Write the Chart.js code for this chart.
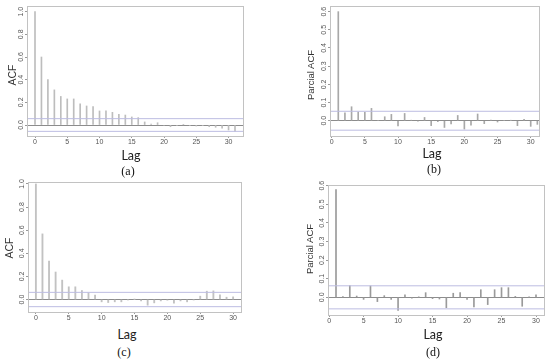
<!DOCTYPE html>
<html>
<head>
<meta charset="utf-8">
<script src="https://cdn.jsdelivr.net/npm/chart.js@4.4.1/dist/chart.umd.min.js"></script>
<style>
body { margin: 0; background: #fff; width: 550px; height: 359px; position: relative; overflow: hidden; }
canvas { position: absolute; }
.t { position: absolute; white-space: nowrap; transform: translate(-50%, -50%); }
.yt { font: 9.5px "Liberation Sans", Arial, sans-serif; color: #333; transform: translate(-50%, -50%) rotate(-90deg); }
.yt.big { font-size: 10.5px; }
.lag { font: 12.5px Lato, sans-serif; color: #222; }
.cap { font: 12px "Liberation Serif", serif; color: #111; }
</style>
</head>
<body>
<canvas id="ca" width="250" height="150" style="left:0;top:0"></canvas>
<canvas id="cb" width="250" height="150" style="left:300px;top:0"></canvas>
<canvas id="cc" width="250" height="150" style="left:0;top:176px"></canvas>
<canvas id="cd" width="250" height="152" style="left:300px;top:176px"></canvas>

<div class="t yt big" style="left:11.5px;top:75px">ACF</div>
<div class="t yt" style="left:309.5px;top:75px">Parcial ACF</div>
<div class="t yt big" style="left:9px;top:248px">ACF</div>
<div class="t yt" style="left:309px;top:249px">Parcial ACF</div>

<div class="t lag" style="left:131px;top:155px">Lag</div>
<div class="t lag" style="left:432px;top:153px">Lag</div>
<div class="t lag" style="left:127px;top:334px">Lag</div>
<div class="t lag" style="left:433px;top:334px">Lag</div>

<div class="t cap" style="left:128px;top:171px">(a)</div>
<div class="t cap" style="left:434px;top:169px">(b)</div>
<div class="t cap" style="left:124px;top:352px">(c)</div>
<div class="t cap" style="left:433px;top:352px">(d)</div>

<script>
// valeurs
var lagsA = [0,1,2,3,4,5,6,7,8,9,10,11,12,13,14,15,16,17,18,19,20,21,22,23,24,25,26,27,28,29,30,31];
var acfA = [1.0,0.60,0.40,0.31,0.252,0.23,0.23,0.186,0.168,0.162,0.124,0.124,0.112,0.094,0.088,0.071,
            0.065,0.027,0.009,0.02,-0.004,-0.015,-0.003,0.002,-0.003,-0.009,-0.006,-0.015,-0.02,-0.027,-0.044,-0.056];

var lagsB = [1,2,3,4,5,6,7,8,9,10,11,12,13,14,15,16,17,18,19,20,21,22,23,24,25,26,27,28,29,30,31];
var pacfB = [0.60,0.044,0.077,0.048,0.046,0.068,0.002,0.022,0.035,-0.029,0.040,0.003,-0.002,0.018,-0.027,
             -0.005,-0.037,-0.018,0.029,-0.046,-0.024,0.037,-0.016,0.003,-0.007,0.002,0.001,-0.027,0.007,-0.031,-0.02];

var lagsC = [0,1,2,3,4,5,6,7,8,9,10,11,12,13,14,15,16,17,18,19,20,21,22,23,24,25,26,27,28,29,30];
var acfC = [1.0,0.568,0.333,0.238,0.168,0.110,0.110,0.078,0.058,0.038,-0.02,-0.026,-0.02,-0.02,-0.003,0.001,
            -0.012,-0.049,-0.029,-0.012,-0.006,-0.032,-0.012,-0.02,-0.003,0.029,0.072,0.075,0.041,0.02,0.023];

var lagsD = [1,2,3,4,5,6,7,8,9,10,11,12,13,14,15,16,17,18,19,20,21,22,23,24,25,26,27,28,29,30];
var pacfD = [0.58,0.004,0.063,0.007,-0.011,0.061,-0.023,0.009,-0.011,-0.07,0.014,-0.005,0.001,0.025,-0.007,
             -0.009,-0.056,0.022,0.025,-0.011,-0.052,0.041,-0.039,0.041,0.052,0.052,0.005,-0.048,0.001,0.014];

// bornes de confiance (lignes bleues)
var ciA = 0.056, ciB = 0.052, ciC = 0.062, ciD = 0.062;

// graduations
var lagTicks = [0,5,10,15,20,25,30];
var acfTicks = [0,0.2,0.4,0.6,0.8,1.0];
var pacfTicks = [0,0.1,0.2,0.3,0.4,0.5,0.6];

var tickFont = { family: '"Liberation Sans", Arial, sans-serif', size: 7 };

// cadre autour de la zone du graphe (comme R)
var boxPlugin = {
  id: 'box',
  afterDraw: function (chart) {
    var ctx = chart.ctx, a = chart.chartArea;
    ctx.save();
    ctx.strokeStyle = '#c2c2c2';
    ctx.lineWidth = 1;
    ctx.strokeRect(Math.round(a.left) + 0.5, Math.round(a.top) + 0.5,
                   Math.round(a.right - a.left), Math.round(a.bottom - a.top));
    ctx.restore();
  }
};

function makePanel(id, lags, vals, ci, yTicks, p) {
  var ciColor = '#bcbce2';
  return new Chart(document.getElementById(id), {
    type: 'bar',
    data: {
      datasets: [
        {
          type: 'bar',
          data: lags.map(function (l, i) { return { x: l, y: vals[i] }; }),
          backgroundColor: p.barColor,
          borderWidth: 0,
          barThickness: p.barW,
          order: 2
        },
        {
          type: 'line',
          data: [{ x: p.xmin, y: ci }, { x: p.xmax, y: ci }],
          borderColor: ciColor, borderWidth: 1, pointRadius: 0, order: 1
        },
        {
          type: 'line',
          data: [{ x: p.xmin, y: -ci }, { x: p.xmax, y: -ci }],
          borderColor: ciColor, borderWidth: 1, pointRadius: 0, order: 1
        }
      ]
    },
    options: {
      responsive: false,
      animation: false,
      devicePixelRatio: 1,
      layout: { padding: { top: p.padTop, right: p.padRight, left: 0, bottom: 0 } },
      plugins: { legend: { display: false }, tooltip: { enabled: false } },
      scales: {
        x: {
          type: 'linear',
          min: p.xmin, max: p.xmax,
          offset: false,
          afterBuildTicks: function (s) { s.ticks = lagTicks.map(function (v) { return { value: v }; }); },
          afterFit: function (s) { s.height = p.xh; },
          ticks: { font: tickFont, color: '#555', padding: 0, maxRotation: 0, autoSkip: false },
          grid: { offset: false, drawOnChartArea: false, tickLength: 2, color: '#999' },
          border: { display: false }
        },
        y: {
          type: 'linear',
          min: p.ymin, max: p.ymax,
          afterBuildTicks: function (s) { s.ticks = yTicks.map(function (v) { return { value: v }; }); },
          afterFit: function (s) { s.width = p.yw; },
          ticks: {
            font: tickFont, color: '#555', padding: -1,
            minRotation: 90, maxRotation: 90, crossAlign: 'center',
            callback: function (v) { return Number(v).toFixed(1); }
          },
          grid: {
            color: function (c) { return c.tick && c.tick.value === 0 ? '#8c8c8c' : 'rgba(0,0,0,0)'; },
            tickColor: '#999',
            tickLength: 2
          },
          border: { display: false }
        }
      }
    },
    plugins: [boxPlugin]
  });
}

makePanel('ca', lagsA, acfA, ciA, acfTicks,
  { xmin: -1.24, xmax: 32.24, ymin: -0.097, ymax: 1.05, yw: 27, xh: 14, padTop: 6, padRight: 7, barColor: '#bdbdbd', barW: 1 });
makePanel('cb', lagsB, pacfB, ciB, pacfTicks,
  { xmin: -0.25, xmax: 31.25, ymin: -0.084, ymax: 0.631, yw: 30, xh: 14, padTop: 6, padRight: 11, barColor: '#a8a8a8', barW: 1 });
makePanel('cc', lagsC, acfC, ciC, acfTicks,
  { xmin: -1.2, xmax: 31.2, ymin: -0.108, ymax: 1.017, yw: 28, xh: 14, padTop: 6, padRight: 9, barColor: '#c2c2c2', barW: 1.2 });
makePanel('cd', lagsD, pacfD, ciD, pacfTicks,
  { xmin: -0.16, xmax: 31.16, ymin: -0.095, ymax: 0.604, yw: 28, xh: 13, padTop: 9, padRight: 6, barColor: '#9a9a9a', barW: 1 });
</script>
</body>
</html>
